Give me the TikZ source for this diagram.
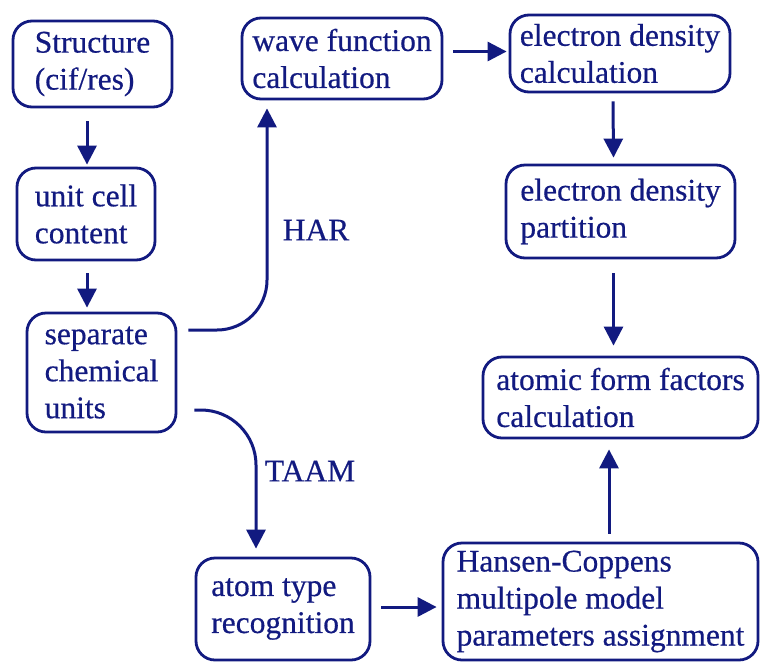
\documentclass[tikz,border=0pt]{standalone}
\usepackage{fontspec}
\setmainfont{Liberation Serif}[FakeBold=0.5]
\usetikzlibrary{arrows.meta,calc}
\definecolor{navy}{RGB}{18,26,128}
\begin{document}
\begin{tikzpicture}[x=1pt,y=-1pt,
  box/.style={draw=navy, line width=2.8pt, rounded corners=19pt, align=left,
    inner sep=0pt, text=navy, font=\fontsize{31.5}{37}\selectfont},
  flow/.style={draw=navy, line width=3pt, -{Triangle[length=19pt,width=19pt]}},
  tag/.style={text=navy, font=\fontsize{31.5}{37}\selectfont, inner sep=0pt}]
\useasboundingbox (0,0) rectangle (760,662);

% process boxes
\node[box, minimum width=159pt, minimum height=86pt]  (struct) at (92.5,64)   {Structure\\(cif/res)};
\node[box, minimum width=138pt, minimum height=92pt]  (unit)   at (86,214)    {unit cell\\content};
\node[box, minimum width=149pt, minimum height=119pt] (sep)    at (101.5,372.5) {separate\\chemical\\units};
\node[box, minimum width=200pt, minimum height=81pt]  (wave)   at (342,58.5)  {wave function\\calculation};
\node[box, minimum width=220pt, minimum height=77pt]  (ecalc)  at (620,53.5)  {electron density\\calculation};
\node[box, minimum width=229pt, minimum height=93pt]  (part)   at (620.5,211.5) {electron density\\partition};
\node[box, minimum width=275pt, minimum height=81pt]  (atomic) at (620.5,397.5) {atomic form factors\\calculation};
\node[box, minimum width=174pt, minimum height=102pt] (atom)   at (283,609)   {atom type\\recognition};
\node[box, minimum width=315pt, minimum height=117pt] (hansen) at (600.5,601.5) {Hansen-Coppens\\multipole model\\parameters assignment};

% straight connectors
\draw[flow] ($(struct.south -| unit.north)+(1,13)$) -- ($(unit.north)+(1,-2)$);
\draw[flow] ($(unit.south)+(1,12)$) -- ($(sep.north -| unit.south)+(1,-4)$);
\draw[flow] ($(wave.east |- ecalc.west)+(10,-2)$) -- ($(ecalc.west)+(-2,-2)$);
\draw[flow] ($(ecalc.south)+(-7,8)$) -- ($(part.north)+(-7,-6)$);
\draw[flow] ($(part.south)+(-7,14)$) -- ($(atomic.north)+(-7,-10)$);
\draw[flow] ($(hansen.north)+(8.5,-8)$) -- ($(atomic.south)+(-11.5,10)$);
\draw[flow] ($(atom.east)+(10,-2)$) -- ($(hansen.west |- atom.east)+(-5,-2)$);

% the two refinement routes
\draw[flow, rounded corners=50pt] ($(sep.east)+(11,-42.5)$) -| ($(wave.south)+(-75,8)$);
\draw[flow, rounded corners=55pt] ($(sep.east)+(17,37.5)$) -| ($(atom.north)+(-27,-8)$);

\node[tag] (har)  at (316,230) {HAR};
\node[tag] (taam) at (310,471) {TAAM};
\end{tikzpicture}
\end{document}
